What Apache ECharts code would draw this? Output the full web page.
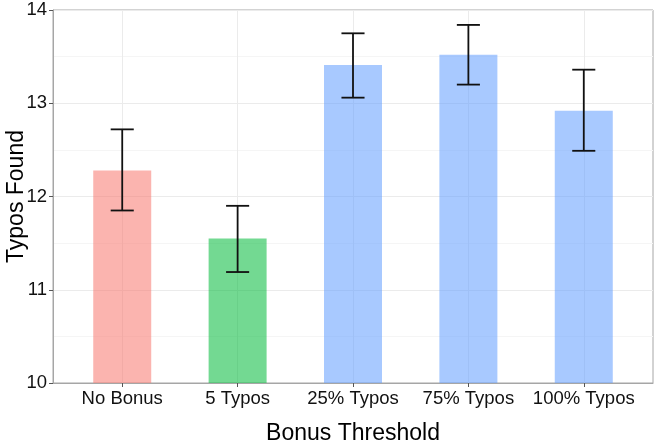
<!DOCTYPE html>
<html>
<head>
<meta charset="utf-8">
<script src="https://cdn.jsdelivr.net/npm/echarts@6/dist/echarts.min.js"></script>
<style>
  html, body { margin: 0; padding: 0; background: #fff; }
  #main { width: 664px; height: 448px; }
</style>
</head>
<body>
<div id="main"></div>
<script>
"use strict";
// data
var categories = ['No Bonus', '5 Typos', '25% Typos', '75% Typos', '100% Typos'];
var means = [12.28, 11.55, 13.41, 13.52, 12.92];
var lower = [11.85, 11.19, 13.06, 13.20, 12.49];
var upper = [12.72, 11.90, 13.75, 13.84, 13.36];
var barColors = ['rgba(248,118,109,0.55)', 'rgba(0,186,56,0.55)', 'rgba(97,156,255,0.55)',
                 'rgba(97,156,255,0.55)', 'rgba(97,156,255,0.55)'];
var yTicks = [10, 11, 12, 13, 14];

var positions = categories.map(function(d, i){ return i + 1; });

var barData = means.map(function(v, i){
  return { value: [positions[i], v], itemStyle: { color: barColors[i] } };
});
var errData = means.map(function(v, i){ return [positions[i], lower[i], upper[i]]; });

function renderErr(params, api){
  var x = api.value(0);
  var lo = api.coord([x, api.value(1)]);
  var hi = api.coord([x, api.value(2)]);
  var half = api.size([0.2, 0])[0] / 2;
  var st = { stroke: '#111', lineWidth: 1.8 };
  return { type: 'group', children: [
    { type: 'line', shape: { x1: lo[0], y1: lo[1], x2: hi[0], y2: hi[1] }, style: st },
    { type: 'line', shape: { x1: hi[0] - half, y1: hi[1], x2: hi[0] + half, y2: hi[1] }, style: st },
    { type: 'line', shape: { x1: lo[0] - half, y1: lo[1], x2: lo[0] + half, y2: lo[1] }, style: st }
  ]};
}

var chart = echarts.init(document.getElementById('main'), null, { renderer: 'canvas' });
var font = '"Liberation Sans", Arial, Helvetica, sans-serif';
chart.setOption({
  animation: false,
  textStyle: { fontFamily: font },
  grid: { left: 53, right: 11, top: 10, bottom: 65, containLabel: false, outerBoundsMode: 'none',
    show: true, borderColor: '#a6a6a6', borderWidth: 1, backgroundColor: 'transparent' },
  xAxis: {
    type: 'value', min: 0.4, max: 5.6,
    name: 'Bonus Threshold', nameLocation: 'middle', nameGap: 39,
    nameTextStyle: { fontSize: 23, color: '#000', fontFamily: font },
    axisLine: { show: true, lineStyle: { color: '#a6a6a6' } },
    axisTick: { show: true, customValues: positions, length: 4, lineStyle: { color: '#555' } },
    axisLabel: { customValues: positions, fontSize: 18.5, color: '#111', margin: 6, fontFamily: font,
      formatter: function(v){ return categories[Math.round(v) - 1] || ''; } },
    splitLine: { show: true, lineStyle: { color: '#ebebeb', width: 1 } }
  },
  yAxis: {
    type: 'value', min: yTicks[0], max: yTicks[yTicks.length - 1], interval: 1,
    name: 'Typos Found', nameLocation: 'middle', nameGap: 25, nameMoveOverlap: false,
    nameTextStyle: { fontSize: 23, color: '#000', fontFamily: font },
    axisLine: { show: true, lineStyle: { color: '#a6a6a6' } },
    axisTick: { show: true, length: 4, lineStyle: { color: '#555' } },
    axisLabel: { fontSize: 18.5, color: '#111', margin: 6, fontFamily: font },
    splitLine: { show: true, lineStyle: { color: '#ebebeb', width: 1 } },
    minorTick: { show: false, splitNumber: 2 },
    minorSplitLine: { show: true, lineStyle: { color: '#f5f5f5', width: 1 } }
  },
  series: [
    { type: 'bar', data: barData, barWidth: 58, z: 3 },
    { type: 'custom', data: errData, renderItem: renderErr, z: 4, encode: { x: 0, y: [1, 2] } }
  ]
});
</script>
</body>
</html>
